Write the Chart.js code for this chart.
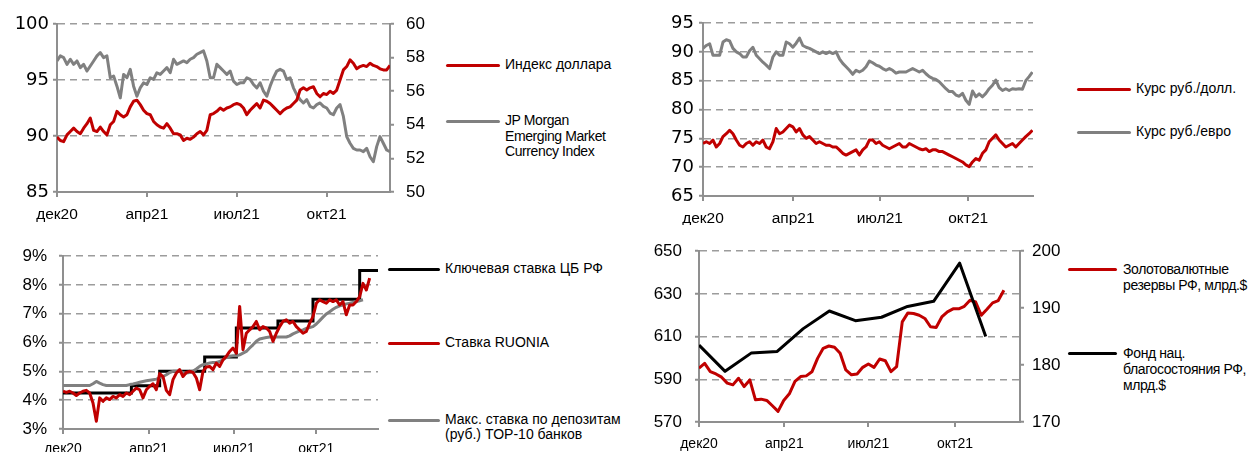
<!DOCTYPE html>
<html>
<head>
<meta charset="utf-8">
<script src="https://cdn.jsdelivr.net/npm/chart.js@4.4.0/dist/chart.umd.min.js"></script>
<style>
  body { margin: 0; background: #fff; width: 1249px; height: 452px; overflow: hidden; position: relative;
         font-family: "Liberation Sans", Arial, sans-serif; }
  canvas { position: absolute; }
  .lg { position: absolute; font-size: 14px; color: #000; }
  .lg i { position: absolute; left: 0; top: -1.5px; height: 3px; border-radius: 1.5px; }
  .lg span { position: absolute; top: -8px; white-space: nowrap; line-height: 15.5px; }
  .tight span { letter-spacing: -0.4px; }
</style>
</head>
<body>
<canvas id="c1" width="440" height="225" style="left:0;top:0"></canvas>
<canvas id="c2" width="420" height="225" style="left:640px;top:0"></canvas>
<canvas id="c3" width="386" height="224" style="left:0;top:228px"></canvas>
<canvas id="c4" width="422" height="224" style="left:640px;top:228px"></canvas>

<div class="lg" style="left:446px;top:65px"><i style="width:54px;background:#c00000"></i><span style="left:59px">Индекс доллара</span></div>
<div class="lg tight" style="left:446px;top:121px"><i style="width:54px;background:#808080"></i><span style="left:59px">JP Morgan<br>Emerging Market<br>Currency Index</span></div>

<div class="lg" style="left:1077px;top:89px"><i style="width:54px;background:#c00000"></i><span style="left:59px">Курс руб./долл.</span></div>
<div class="lg" style="left:1077px;top:132px"><i style="width:54px;background:#808080"></i><span style="left:59px">Курс руб./евро</span></div>

<div class="lg" style="left:388px;top:269px"><i style="width:52px;background:#000"></i><span style="left:57px">Ключевая ставка ЦБ РФ</span></div>
<div class="lg" style="left:388px;top:343px"><i style="width:52px;background:#c00000"></i><span style="left:57px">Ставка RUONIA</span></div>
<div class="lg" style="left:388px;top:420px"><i style="width:52px;background:#808080"></i><span style="left:57px;line-height:15px">Макс. ставка по депозитам<br>(руб.) TOP-10 банков</span></div>

<div class="lg tight" style="left:1068px;top:269px"><i style="width:49px;background:#c00000"></i><span style="left:55px;line-height:16px">Золотовалютные<br>резервы РФ, млрд.$</span></div>
<div class="lg tight" style="left:1068px;top:353px"><i style="width:49px;background:#000"></i><span style="left:55px;line-height:16px">Фонд нац.<br>благосостояния РФ,<br>млрд.$</span></div>

<script>
// подписи оси X (одинаковые на всех панелях)
const monthLabels = ['дек20', 'апр21', 'июл21', 'окт21'];

// --- панель 1: индекс доллара / JPM EMCI (ось X в "кварталах": 0 = дек20)
const p1Ticks = [0, 1, 2, 3];
const p1Step = 0.03706;
const dollarIndex = [89.9, 89.6, 89.5, 90.1, 90.4, 90.7, 90.4, 90.2, 90.7, 91.1,
  91.6, 90.5, 90.4, 90.8, 90.4, 90.1, 91.0, 91.3, 92.2, 91.9,
  91.7, 91.9, 92.6, 93.1, 93.2, 92.8, 92.3, 92.0, 91.9, 91.3,
  91.0, 90.8, 90.7, 91.1, 90.7, 90.2, 90.2, 90.1, 89.6, 89.8,
  89.7, 89.9, 90.2, 90.4, 90.1, 90.5, 91.9, 92.0, 92.2, 92.5,
  92.3, 92.5, 92.6, 92.8, 92.9, 92.8, 92.5, 91.9, 92.3, 92.6,
  92.9, 92.5, 93.2, 93.1, 92.9, 92.6, 92.3, 92.0, 92.3, 92.5,
  92.6, 92.9, 93.2, 94.1, 94.3, 94.1, 94.3, 94.4, 93.8, 93.5,
  93.8, 93.7, 94.0, 93.8, 94.1, 95.0, 95.9, 96.2, 96.8, 96.5,
  96.0, 96.2, 96.3, 96.2, 96.5, 96.3, 96.2, 96.0, 95.9, 95.9, 96.3];
const jpmEmci = [57.8, 58.1, 58.0, 57.6, 57.9, 57.6, 57.8, 57.4, 57.6, 57.2,
  57.5, 57.8, 58.1, 58.3, 58.0, 58.1,
  56.8, 56.9, 56.3, 55.6, 57.0, 56.8, 57.3, 56.3, 55.7, 56.2,
  56.5, 56.4, 56.8, 56.7, 57.1, 57.0, 57.2, 57.4, 57.1, 57.9,
  57.6, 57.7, 57.8, 57.7, 57.9, 58.0, 58.2, 58.3, 58.4, 57.8,
  56.8, 56.8, 57.6, 57.4, 57.2, 57.0, 57.2, 56.6, 56.4, 56.5,
  56.5, 56.8, 56.7, 56.4, 56.2, 56.5, 56.0, 55.7, 56.3, 56.8,
  57.2, 57.3, 57.2, 56.7, 56.8, 56.2, 55.8, 55.5, 55.3, 55.5,
  55.1, 55.0, 55.2, 55.3, 55.1, 55.0, 54.7, 54.6, 55.0, 55.2,
  54.5, 53.3, 52.9, 52.6, 52.5, 52.5, 52.4, 52.6, 52.1, 51.8,
  52.7, 53.3, 52.9, 52.5, 52.4];

// --- панель 2: курсы рубля
const p2Ticks = [0, 1.02, 2, 3];
const p2Step = 0.03764;
const rubUsd = [74.1, 74.4, 74.1, 74.7, 73.5, 74.1, 75.3, 75.8, 76.4, 75.8,
  74.7, 73.8, 73.5, 74.1, 74.4, 73.8, 74.4, 74.1, 74.7, 73.5,
  73.2, 74.4, 76.7, 75.8, 76.1, 76.7, 77.3, 77.0, 76.1, 76.7,
  75.6, 75.0, 75.3, 74.7, 74.1, 74.4, 74.1, 73.8, 73.8, 73.5,
  73.5, 73.0, 72.4, 72.1, 72.4, 72.7, 73.0, 72.1, 73.0, 73.5,
  74.7, 74.7, 74.1, 74.4, 73.8, 73.5, 73.2, 73.5, 73.8, 74.1,
  73.5, 73.5, 74.1, 73.8, 73.5, 73.2, 73.0, 73.2, 72.7, 73.0,
  73.0, 72.7, 72.7, 72.4, 72.1, 71.8, 71.5, 71.2, 70.9, 70.4,
  70.1, 70.9, 71.5, 71.2, 72.4, 73.0, 74.4, 75.0, 75.6, 74.7,
  74.1, 73.5, 73.8, 74.1, 73.5, 74.1, 74.7, 75.3, 75.8, 76.4];
const rubEur = [90.6, 91.1, 91.4, 89.4, 89.4, 89.4, 91.7, 92.1, 91.9, 90.6,
  90.0, 89.7, 89.1, 89.1, 90.2, 90.8, 89.4, 88.8, 88.2, 87.7,
  87.1, 89.1, 90.0, 89.4, 89.4, 91.7, 91.4, 90.8, 91.5, 92.4,
  91.1, 90.8, 90.6, 90.3, 90.0, 89.7, 90.0, 89.7, 90.0, 89.7,
  90.0, 88.8, 88.0, 87.4, 86.8, 86.1, 86.8, 86.5, 86.8, 87.4,
  88.4, 88.1, 87.7, 87.5, 87.1, 86.8, 87.1, 86.8, 86.3, 86.5,
  86.5, 86.5, 86.8, 87.1, 86.8, 86.5, 86.8, 86.2, 85.7, 85.4,
  85.2, 84.8, 84.2, 83.6, 83.1, 83.1, 82.5, 82.3, 82.8, 81.6,
  80.9, 83.2, 82.2, 82.7, 82.2, 82.8, 83.6, 84.2, 85.1, 83.8,
  83.3, 83.6, 83.3, 83.6, 83.5, 83.6, 83.5, 85.0, 85.7, 86.5];

// --- панель 3: ставки, %
const p3Ticks = [0, 1.015, 2.025, 3];
const p3Step = 0.03948;
const keyRateX = [0, 0.81, 1.145, 1.678, 2.053, 2.546, 2.961, 3.514, 3.731];
const keyRate = [4.25, 4.5, 5.0, 5.5, 6.5, 6.75, 7.5, 8.5, 8.5];
const ruonia = [4.31, 4.27, 4.31, 4.25, 4.16, 4.25, 4.31, 4.34, 4.25, 3.90,
  3.27, 4.08, 3.96, 4.08, 4.02, 4.13, 4.08, 4.19, 4.13, 4.25,
  4.19, 4.31, 4.42, 4.36, 4.08, 4.36, 4.48, 4.57, 4.36, 4.92,
  4.82, 4.34, 4.19, 4.71, 4.94, 5.06, 4.82, 4.96, 5.00, 4.96,
  4.77, 4.36, 5.00, 5.15, 5.17, 5.06, 5.29, 5.17, 5.40, 5.52,
  5.69, 5.81, 5.63, 7.25, 5.75, 6.32, 6.44, 6.55, 6.73, 6.44,
  6.55, 6.50, 6.38, 6.04, 6.32, 6.55, 6.73, 6.79, 6.67, 6.73,
  6.55, 6.44, 6.32, 6.38, 6.67, 6.90, 7.36, 7.48, 7.42, 7.36,
  7.48, 7.42, 7.48, 7.30, 7.42, 6.96, 7.30, 7.30, 7.42, 7.59,
  8.05, 7.82, 8.23];
const depositTop10 = [4.51, 4.51, 4.51, 4.51, 4.51, 4.51, 4.51, 4.51, 4.51,
  4.57, 4.65, 4.59, 4.54, 4.51, 4.51, 4.51, 4.51, 4.51, 4.51, 4.51,
  4.54, 4.56, 4.59, 4.62, 4.65, 4.67, 4.69, 4.71, 4.73, 4.77,
  4.82, 4.88, 4.96, 5.00, 5.00, 5.00, 4.96, 4.94, 4.96, 5.00,
  5.08, 5.17, 5.23, 5.26, 5.29, 5.31, 5.31, 5.34, 5.40, 5.49,
  5.52, 5.54, 5.54, 5.57, 5.63, 5.69, 5.81, 5.92, 6.04, 6.12,
  6.15, 6.17, 6.19, 6.19, 6.19, 6.19, 6.19, 6.19,
  6.23, 6.30, 6.35, 6.40, 6.44, 6.49, 6.52, 6.55, 6.64, 6.76,
  6.88, 6.99, 7.07, 7.15, 7.22, 7.27, 7.30, 7.34, 7.36, 7.39,
  7.42, 7.45, 7.48];

// --- панель 4: резервы и ФНБ, млрд.$
const p4Ticks = [0, 1, 1.984, 3];
const reservesStep = 0.06617;
const nwfStep = 0.3055;
const fxReserves = [595.2, 597.5, 593.6, 592.5, 591.0, 588.2, 587.4, 590.5, 586.6, 589.7,
  580.4, 580.7, 580.1, 577.6, 575.0, 580.1, 583.2, 589.0, 591.3, 591.6,
  593.5, 599.8, 604.5, 605.6, 605.0, 602.2, 594.4, 592.1, 592.5, 595.6,
  597.2, 595.6, 599.5, 598.7, 593.6, 595.9, 616.9, 621.1, 620.8, 620.0,
  618.5, 614.6, 614.3, 619.2, 621.6, 623.0, 623.0, 624.2, 627.0, 626.2,
  620.0, 622.8, 625.8, 626.9, 631.7];
const nwf = [183.5, 178.9, 182.1, 182.4, 186.4, 189.5, 187.8, 188.4, 190.3, 191.2, 197.9, 185.0];

const RED = '#c00000', GRAY = '#808080', BLACK = '#000000';
const AXIS = '#8f8f8f', GRID = '#9c9c9c';
const FONT = 'Liberation Sans';

function series(vals, step) {
  return vals.map((v, i) => ({ x: i * step, y: v }));
}

function line(data, color, axis, extra) {
  return Object.assign({ data: data, borderColor: color, borderWidth: 3, pointRadius: 0,
    tension: 0, fill: false, yAxisID: axis, borderJoinStyle: 'round' }, extra || {});
}

function xAxis(tickPos, max, size, pad, h) {
  return {
    type: 'linear', min: 0, max: max,
    border: { color: AXIS, width: 2 },
    grid: { drawOnChartArea: false, color: AXIS, tickLength: 5, lineWidth: 2 },
    ticks: { autoSkip: false, maxRotation: 0, color: '#000', padding: pad,
      font: { family: FONT, size: size }, callback: (v, i) => monthLabels[i] },
    afterBuildTicks: s => { s.ticks = tickPos.map(v => ({ value: v })); },
    afterFit: s => { s.height = h; }
  };
}

function yAxis(pos, min, max, step, o) {
  return {
    type: 'linear', position: pos, min: min, max: max,
    border: { color: AXIS, width: 2, dash: [7, 5] },
    grid: { drawOnChartArea: !!o.grid, color: GRID, lineWidth: 1.5, tickLength: 4,
      tickColor: AXIS, tickWidth: 2, tickBorderDash: [] },
    ticks: { stepSize: step, color: '#000', padding: o.pad, font: o.font,
      callback: o.fmt || (v => v) },
    afterFit: s => { s.width = o.w; }
  };
}

function make(id, datasets, scales, pad) {
  return new Chart(document.getElementById(id), {
    type: 'line',
    data: { datasets: datasets },
    options: {
      responsive: false, animation: false, devicePixelRatio: 1,
      layout: { padding: pad },
      plugins: { legend: { display: false }, tooltip: { enabled: false } },
      scales: scales
    }
  });
}

make('c1', [
  line(series(dollarIndex, p1Step), RED, 'y'),
  line(series(jpmEmci, p1Step), GRAY, 'y2')
], {
  x: xAxis(p1Ticks, 3.706, 15.5, 8, 33),
  y: yAxis('left', 85, 100, 5, { grid: true, pad: 4, w: 57, font: { family: 'DejaVu Sans', size: 18 } }),
  y2: yAxis('right', 50, 60, 2, { grid: false, pad: 12, w: 50, font: { family: FONT, size: 17 } })
}, { top: 24, left: 0, right: 0, bottom: 0 });

make('c2', [
  line(series(rubUsd, p2Step), RED, 'y'),
  line(series(rubEur, p2Step), GRAY, 'y')
], {
  x: xAxis(p2Ticks, 3.733, 15.5, 8, 29),
  y: yAxis('left', 65, 95, 5, { grid: true, pad: 5, w: 63, font: { family: 'DejaVu Sans', size: 18 } })
}, { top: 23, left: 0, right: 27, bottom: 0 });

make('c3', [
  line(series(ruonia, p3Step), RED, 'y'),
  line(series(depositTop10, p3Step), GRAY, 'y'),
  line(keyRateX.map((x, i) => ({ x: x, y: keyRate[i] })), BLACK, 'y', { stepped: true, borderJoinStyle: 'miter' })
], {
  x: xAxis(p3Ticks, 3.731, 14, 7, 23),
  y: yAxis('left', 3, 9, 1, { grid: true, pad: 12, w: 63, font: { family: FONT, size: 17 }, fmt: v => v + '%' })
}, { top: 28, left: 0, right: 8, bottom: 0 });

make('c4', [
  line(series(nwf, nwfStep), BLACK, 'y2'),
  line(series(fxReserves, reservesStep), RED, 'y')
], {
  x: xAxis(p4Ticks, 3.762, 14, 9, 30),
  y: yAxis('left', 570, 650, 20, { grid: true, pad: 13, w: 59, font: { family: FONT, size: 17 } }),
  y2: yAxis('right', 170, 200, 10, { grid: false, pad: 8, w: 42, font: { family: FONT, size: 17 } })
}, { top: 23, left: 0, right: 0, bottom: 0 });
</script>
</body>
</html>
